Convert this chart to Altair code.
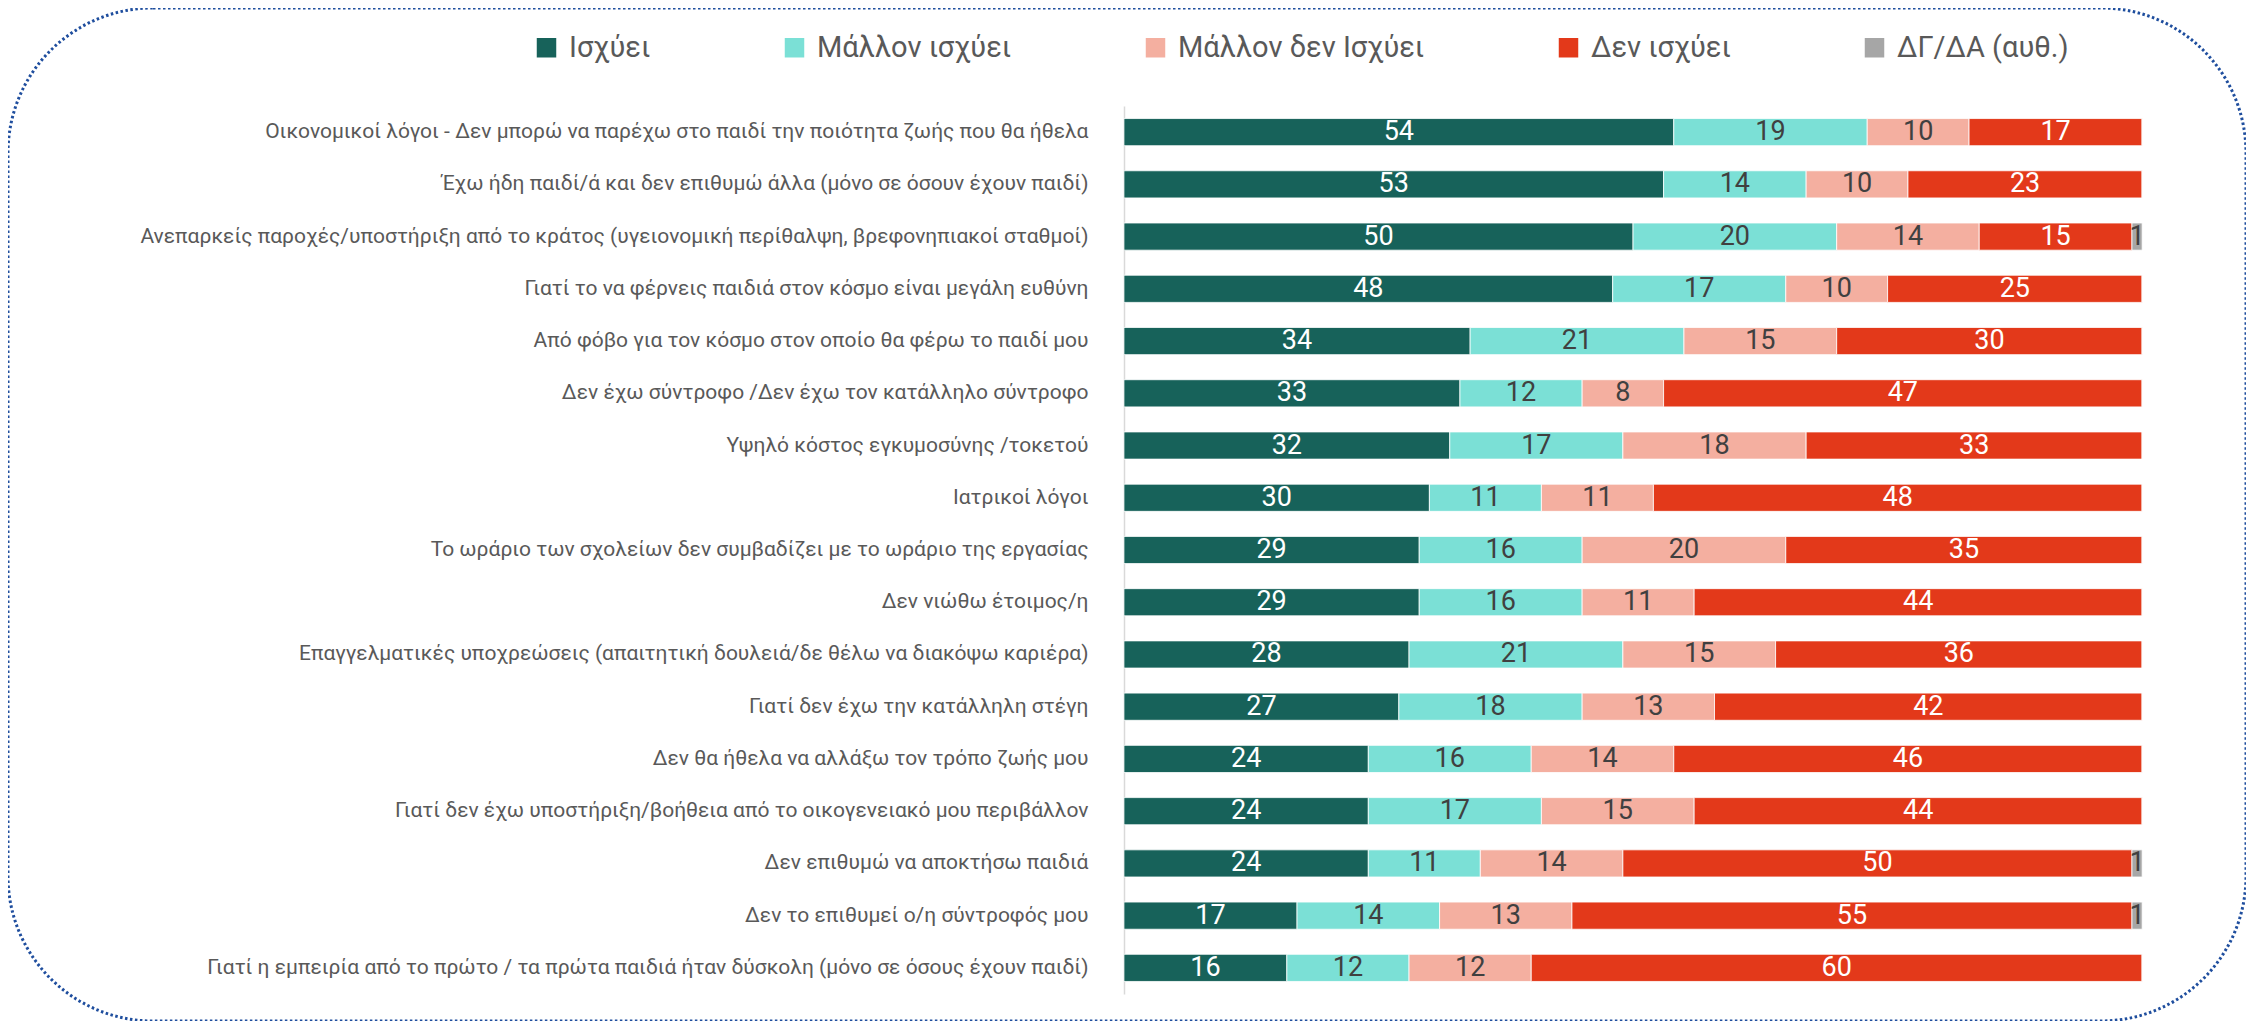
import altair as alt
import pandas as pd

categories = [
    "Οικονομικοί λόγοι - Δεν μπορώ να παρέχω στο παιδί την ποιότητα ζωής που θα ήθελα",
    "Έχω ήδη παιδί/ά και δεν επιθυμώ άλλα (μόνο σε όσουν έχουν παιδί)",
    "Ανεπαρκείς παροχές/υποστήριξη από το κράτος (υγειονομική περίθαλψη, βρεφονηπιακοί σταθμοί)",
    "Γιατί το να φέρνεις παιδιά στον κόσμο είναι μεγάλη ευθύνη",
    "Από φόβο για τον κόσμο στον οποίο θα φέρω το παιδί μου",
    "Δεν έχω σύντροφο /Δεν έχω τον κατάλληλο σύντροφο",
    "Υψηλό κόστος εγκυμοσύνης /τοκετού",
    "Ιατρικοί λόγοι",
    "Το ωράριο των σχολείων δεν συμβαδίζει με το ωράριο της εργασίας",
    "Δεν νιώθω έτοιμος/η",
    "Επαγγελματικές υποχρεώσεις (απαιτητική δουλειά/δε θέλω να διακόψω καριέρα)",
    "Γιατί δεν έχω την κατάλληλη στέγη",
    "Δεν θα ήθελα να αλλάξω τον τρόπο ζωής μου",
    "Γιατί δεν έχω υποστήριξη/βοήθεια από το οικογενειακό μου περιβάλλον",
    "Δεν επιθυμώ να αποκτήσω παιδιά ",
    "Δεν το επιθυμεί ο/η σύντροφός μου",
    "Γιατί η εμπειρία από το πρώτο / τα πρώτα παιδιά ήταν δύσκολη (μόνο σε όσους έχουν παιδί)",
]

series = ["Ισχύει", "Μάλλον ισχύει", "Μάλλον δεν Ισχύει", "Δεν ισχύει", "ΔΓ/ΔΑ (αυθ.)"]
colors = ["#17625A", "#7BE0D6", "#F4AFA0", "#E3391A", "#A6A6A6"]
label_colors = ["#FFFFFF", "#404040", "#404040", "#FFFFFF", "#404040"]

isxyei = [54, 53, 50, 48, 34, 33, 32, 30, 29, 29, 28, 27, 24, 24, 24, 17, 16]
mallon_isxyei = [19, 14, 20, 17, 21, 12, 17, 11, 16, 16, 21, 18, 16, 17, 11, 14, 12]
mallon_den = [10, 10, 14, 10, 15, 8, 18, 11, 20, 11, 15, 13, 14, 15, 14, 13, 12]
den_isxyei = [17, 23, 15, 25, 30, 47, 33, 48, 35, 44, 36, 42, 46, 44, 50, 55, 60]
dgda = [0, 0, 1, 0, 0, 0, 0, 0, 0, 0, 0, 0, 0, 0, 1, 1, 0]

values = [isxyei, mallon_isxyei, mallon_den, den_isxyei, dgda]

rows = []
for si, (s, vals) in enumerate(zip(series, values)):
    for ci, c in enumerate(categories):
        rows.append({"cat": c, "series": s, "order": si, "value": vals[ci],
                     "tcolor": label_colors[si]})
df = pd.DataFrame(rows)

FONT = "Roboto, sans-serif"

W, H = 2238, 1013

base = alt.Chart(df).transform_stack(
    stack="value", groupby=["cat"], as_=["v0", "v1"],
    sort=[alt.SortField("order", order="ascending")]
).transform_calculate(mid="(datum.v0 + datum.v1) / 2")

xscale = alt.Scale(domain=[-109.6, 110.2], nice=False, zero=False)
yscale = alt.Scale(domain=categories, range=[98, 986], paddingInner=0.48, paddingOuter=0.24)

bars = base.mark_bar(stroke="white", strokeWidth=0.8).encode(
    x=alt.X("v0:Q", scale=xscale, axis=None),
    x2="v1:Q",
    y=alt.Y("cat:N", scale=yscale, sort=categories, title=None,
            axis=alt.Axis(orient="left", offset=-1116, ticks=False, tickSize=0,
                          labelPadding=36, labelFontSize=21, labelColor="#595959",
                          labelFont=FONT, labelLimit=1100, domain=True,
                          domainColor="#D9D9D9", domainWidth=1.5)),
    color=alt.Color("series:N", scale=alt.Scale(domain=series, range=colors),
                    sort=series,
                    legend=alt.Legend(title=None, orient="none", legendX=524, legendY=25,
                                      direction="horizontal", columns=5,
                                      symbolType="square", symbolSize=380,
                                      symbolStrokeWidth=0,
                                      labelFontSize=29, labelColor="#595959",
                                      labelFont=FONT, columnPadding=129,
                                      labelOffset=8, labelLimit=400)),
)

labels = base.transform_filter("datum.value > 0").mark_text(
    fontSize=27, font=FONT, align="center", baseline="middle"
).encode(
    x=alt.X("mid:Q", scale=xscale),
    y=alt.Y("cat:N", scale=yscale, sort=categories),
    text=alt.Text("value:Q", format="d"),
    color=alt.Color("tcolor:N", scale=None),
)

chart = alt.layer(bars, labels).properties(
    width=W, height=H, autosize=alt.AutoSizeParams(type="none"), padding=0,
).configure_view(
    stroke="#1F4E9E", strokeWidth=3, strokeDash=[2.5, 2.5], cornerRadius=145,
)

chart.save("out.html", embed_options={"renderer": "svg", "actions": False})
